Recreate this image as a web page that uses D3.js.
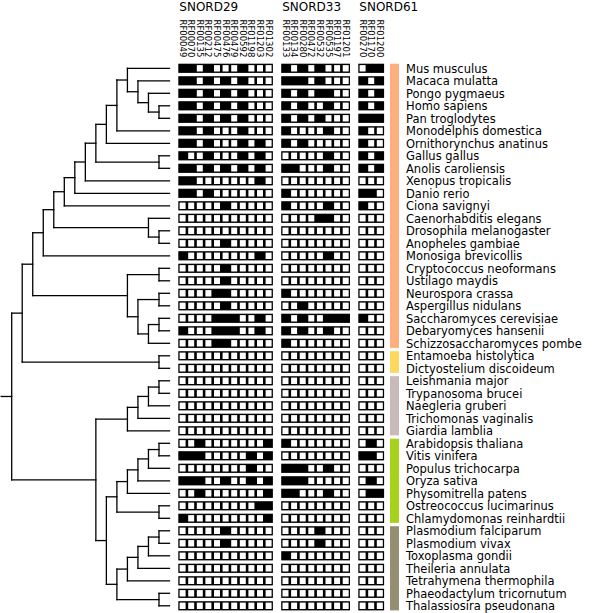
<!DOCTYPE html>
<html><head><meta charset="utf-8">
<script src="https://cdn.jsdelivr.net/npm/d3@7"></script>
<style>html,body{margin:0;padding:0;background:#fff}svg{display:block}</style>
</head><body>
<script>
// ---------------- data ----------------
const species = [
  "Mus musculus","Macaca mulatta","Pongo pygmaeus","Homo sapiens","Pan troglodytes",
  "Monodelphis domestica","Ornithorynchus anatinus","Gallus gallus","Anolis caroliensis",
  "Xenopus tropicalis","Danio rerio","Ciona savignyi","Caenorhabditis elegans",
  "Drosophila melanogaster","Anopheles gambiae","Monosiga brevicollis","Cryptococcus neoformans",
  "Ustilago maydis","Neurospora crassa","Aspergillus nidulans","Saccharomyces cerevisiae",
  "Debaryomyces hansenii","Schizzosaccharomyces pombe","Entamoeba histolytica",
  "Dictyostelium discoideum","Leishmania major","Trypanosoma brucei","Naegleria gruberi",
  "Trichomonas vaginalis","Giardia lamblia","Arabidopsis thaliana","Vitis vinifera",
  "Populus trichocarpa","Oryza sativa","Physomitrella patens","Ostreococcus lucimarinus",
  "Chlamydomonas reinhardtii","Plasmodium falciparum","Plasmodium vivax","Toxoplasma gondii",
  "Theileria annulata","Tetrahymena thermophila","Phaeodactylum tricornutum","Thalassiosira pseudonana"
];
const groups = ["SNORD29","SNORD33","SNORD61"];
const snord29Cols = ["RF00049","RF00070","RF00135","RF00212","RF00475","RF00476","RF00479","RF00592","RF01198","RF01203","RF01302"];
const snord33Cols = ["RF00133","RF00134","RF00280","RF00472","RF00532","RF00535","RF01197","RF01201"];
const snord61Cols = ["RF00270","RF01170","RF01200"];
// presence (1) / absence (0), one string per species, in species order
const snord29 = [
  "11010001000","11010101000","11010101000","11010101000","11010101000",
  "11010001000","11010001010","10010001010","11010101010","11000000010",
  "11010000000","00000100000","00000000000","00000000000","00000100000",
  "10000000010","00000100000","00000100000","00001100000","00000100000",
  "00001110010","10001110010","00001100000","00000000000","00000000000",
  "00000000000","00000000000","00000000000","00000000000","00000000000",
  "00100000001","11100000101","00000000100","11100100101","00100000001",
  "00000000011","10000000001","00000100000","00000100000","00000000000",
  "00000000000","00000000000","00000000000","00000000000"
];
const snord33 = [
  "10101000","11101000","10101100","10100100","10101000",
  "10000100","10100000","00000100","11000100","00000000",
  "10000000","10000100","00001100","00000000","00000000",
  "00000100","00000000","00000000","10000000","00100000",
  "10100111","10100100","10000000","00000000","00000000",
  "00000000","00000000","00000000","00000000","00000000",
  "10000000","00000000","11100100","11100000","11000100",
  "00000000","00000000","00001000","00001000","10000000",
  "00000000","00000000","00000000","00000000"
];
const snord61 = [
  "011","101","101","101","111",
  "100","100","101","101","000",
  "110","100","000","000","000",
  "000","000","000","000","000",
  "100","000","000","000","000",
  "000","000","000","000","000",
  "010","110","000","010","011",
  "000","000","000","000","000",
  "000","000","000","000"
];
// species tree (nested pairs)
const tree = [
 [
  [
   [
    [
     [
      [
       [
        [
         [
          [
           ["Mus musculus",["Macaca mulatta",["Pongo pygmaeus",["Homo sapiens","Pan troglodytes"]]]],
           "Monodelphis domestica"
          ],
          "Ornithorynchus anatinus"
         ],
         ["Gallus gallus","Anolis caroliensis"]
        ],
        "Xenopus tropicalis"
       ],
       "Danio rerio"
      ],
      "Ciona savignyi"
     ],
     ["Caenorhabditis elegans",["Drosophila melanogaster","Anopheles gambiae"]]
    ],
    "Monosiga brevicollis"
   ],
   [["Cryptococcus neoformans","Ustilago maydis"],[["Neurospora crassa","Aspergillus nidulans"],[["Saccharomyces cerevisiae","Debaryomyces hansenii"],"Schizzosaccharomyces pombe"]]]
  ],
  ["Entamoeba histolytica","Dictyostelium discoideum"]
 ],
 [
  [[[["Leishmania major","Trypanosoma brucei"],"Naegleria gruberi"],"Trichomonas vaginalis"],"Giardia lamblia"],
  [
   [[[[["Arabidopsis thaliana","Vitis vinifera"],"Populus trichocarpa"],"Oryza sativa"],"Physomitrella patens"],["Ostreococcus lucimarinus","Chlamydomonas reinhardtii"]],
   [[[[["Plasmodium falciparum","Plasmodium vivax"],"Toxoplasma gondii"],"Theileria annulata"],"Tetrahymena thermophila"],["Phaeodactylum tricornutum","Thalassiosira pseudonana"]]
  ]
 ]
];
// colour strip: clade sizes (rows) in species order
const cladeSize = [23, 2, 5, 7, 7];
const cladeColors = ["#fdb07d", "#fdd85c", "#c9b9b9", "#a8d11c", "#958e72"];

// ---------------- drawing ----------------
const W = 600, H = 613;
const FONT = "DejaVu Sans, Verdana, sans-serif";
const svg = d3.select("body").append("svg").attr("width", W).attr("height", H);

const y = d3.scalePoint().domain(species).range([68.3, 605.8]);
const rowH = 9.2;

// tree
const root = d3.hierarchy(tree, d => Array.isArray(d) ? d : null);
const xT = d3.scaleLinear().domain([0, root.height]).range([169.5, 11.7]);
root.eachAfter(n => {
  n.py = n.children ? d3.mean(n.children, c => c.py) : y(n.data);
  n.px = xT(n.height);
});
const gT = svg.append("g").attr("stroke", "#000").attr("stroke-width", 1.3)
  .attr("fill", "none").attr("stroke-linecap", "square");
root.descendants().filter(n => n.children).forEach(n => {
  const ys = n.children.map(c => c.py);
  gT.append("line").attr("x1", n.px).attr("x2", n.px)
    .attr("y1", d3.min(ys)).attr("y2", d3.max(ys));
  n.children.forEach(c => {
    gT.append("line").attr("x1", n.px).attr("x2", c.px).attr("y1", c.py).attr("y2", c.py);
  });
});
gT.append("line").attr("x1", xT(root.height + 1)).attr("x2", root.px)
  .attr("y1", root.py).attr("y2", root.py);

// matrix
const columns = [snord29Cols, snord33Cols, snord61Cols];
const matrix = [snord29, snord33, snord61];
const pitch = 8.6, gap = 8.3, x0 = 178.3;
const bx = 1.3, by = 1.4;
let start = x0;
groups.forEach((gname, gi) => {
  const cols = columns[gi];
  const xb = d3.scaleBand().domain(cols).range([start, start + cols.length * pitch]);
  svg.append("text").attr("x", start + 1).attr("y", 10.5)
    .attr("font-family", FONT).attr("font-size", 12).attr("fill", "#000").text(gname);
  cols.forEach(c => {
    svg.append("text")
      .attr("transform", `translate(${xb(c) + xb.bandwidth() / 2},19.5) rotate(90)`)
      .attr("dominant-baseline", "central")
      .attr("font-family", FONT).attr("font-size", 8.5).attr("fill", "#000").text(c);
  });
  const gm = svg.append("g");
  species.forEach((sp, si) => {
    const top = y(sp) - rowH / 2;
    gm.append("rect").attr("x", xb.range()[0]).attr("y", top)
      .attr("width", xb.range()[1] - xb.range()[0]).attr("height", rowH).attr("fill", "#000");
    const bits = matrix[gi][si];
    cols.forEach((c, ci) => {
      gm.append("rect").attr("x", xb(c) + bx).attr("y", top + by)
        .attr("width", xb.bandwidth() - 2 * bx).attr("height", rowH - 2 * by)
        .attr("fill", bits[ci] === "1" ? "#000" : "#fff");
    });
  });
  start += cols.length * pitch + gap;
});

// colour strip
let r0 = 0;
cladeSize.forEach((n, i) => {
  const first = species[r0], last = species[r0 + n - 1];
  svg.append("rect").attr("x", 390).attr("y", y(first) - rowH / 2)
    .attr("width", 9).attr("height", y(last) - y(first) + rowH)
    .attr("fill", cladeColors[i]);
  r0 += n;
});

// species labels
svg.append("g").selectAll("text").data(species).join("text")
  .attr("x", 406).attr("y", d => y(d) + 4.2)
  .attr("font-family", FONT).attr("font-size", 11.5).attr("fill", "#000")
  .text(d => d);
</script>
</body></html>
